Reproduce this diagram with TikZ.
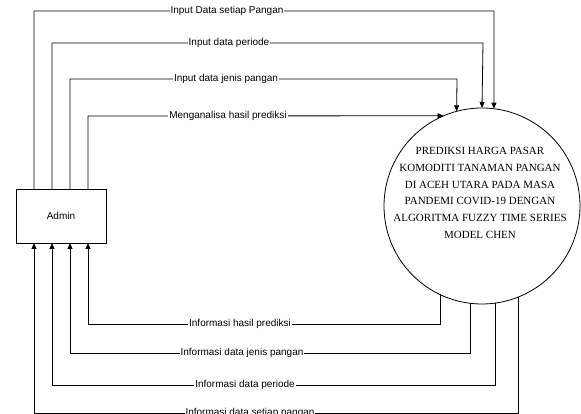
\documentclass[tikz,border=0pt]{standalone}
\usepackage{fontspec}
\setmainfont{Liberation Serif}
\setsansfont{Liberation Sans}
\usetikzlibrary{arrows.meta}
\begin{document}
\begin{tikzpicture}[x=1pt,y=-1pt,
  line/.style={draw=black,line width=0.8pt},
  arr/.style={line,-{Triangle[length=6pt,width=5pt]}},
  lbl/.style={fill=white,inner sep=1pt,font=\sffamily\fontsize{10}{12}\selectfont},
  entity/.style={draw,line width=0.8pt,minimum width=90pt,minimum height=54pt,inner sep=0pt,outer sep=0pt,font=\sffamily\fontsize{10}{12}\selectfont},
  proc/.style={circle,draw,line width=0.8pt,minimum size=196pt,inner sep=0pt,outer sep=0pt}]
\useasboundingbox (0,0) rectangle (581,414);

\node[entity] (admin) at (61,216) {Admin};
\node[proc] (proc) at (482,206) {};
\node[align=center,font=\fontsize{11}{16.8}\selectfont] (title) at (480,193)
  {PREDIKSI HARGA PASAR\\KOMODITI TANAMAN PANGAN\\DI ACEH UTARA PADA MASA\\PANDEMI COVID-19 DENGAN\\ALGORITMA FUZZY TIME SERIES\\MODEL CHEN};

% corners
\coordinate (t1) at (494,11);
\coordinate (t2) at (483,43);
\coordinate (t3) at (457,79);
\coordinate (t4) at (88,116);
\coordinate (b1) at (88,324);
\coordinate (b2) at (70,353);
\coordinate (b3) at (52,385);
\coordinate (b4) at (34,413);

% inputs
\draw[arr] ([xshift=18pt]admin.north west) |- (t1) -- (proc.83);
\draw[arr] ([xshift=36pt]admin.north west) |- (t2) -- (proc.90);
\draw[arr] ([xshift=54pt]admin.north west) |- (t3) -- (proc.105);
\draw[arr] ([xshift=72pt]admin.north west) -- (t4) -- (proc.113);

% outputs
\draw[arr] (proc.245) |- (b1) -- ([xshift=72pt]admin.south west);
\draw[arr] (proc.263) |- (b2) -- ([xshift=54pt]admin.south west);
\draw[arr] (proc.278) |- (b3) -- ([xshift=36pt]admin.south west);
\draw[arr] (proc.292) |- (b4) -- ([xshift=18pt]admin.south west);

% labels
\node[lbl] (l1) at (227,11) {Input Data setiap Pangan};
\node[lbl] (l2) at (229,43) {Input data periode};
\node[lbl] (l3) at (226,79) {Input data jenis pangan};
\node[lbl] (l4) at (228,116) {Menganalisa hasil prediksi};
\node[lbl] (l5) at (240,324) {Informasi hasil prediksi};
\node[lbl] (l6) at (242,353) {Informasi data jenis pangan};
\node[lbl] (l7) at (245,385) {Informasi data periode};
\node[lbl] (l8) at (250,413) {Informasi data setiap pangan};
\end{tikzpicture}
\end{document}
